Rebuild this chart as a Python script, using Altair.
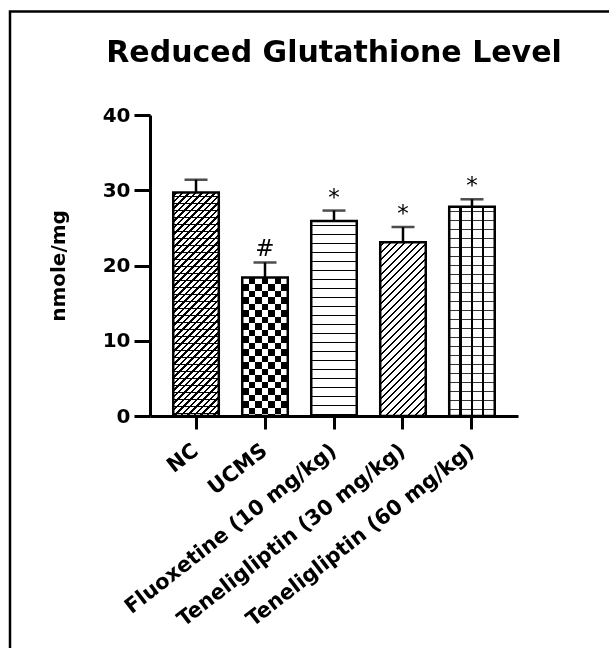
import math
import altair as alt
import pandas as pd

# ---------------- data ----------------
groups = ["NC", "UCMS", "Fluoxetine (10 mg/kg)",
          "Teneligliptin (30 mg/kg)", "Teneligliptin (60 mg/kg)"]
means = [29.7, 18.4, 25.9, 23.1, 27.8]
errors = [1.7, 2.0, 1.4, 2.0, 1.0]
signif = ["", "#", "*", "*", "*"]

df = pd.DataFrame({"group": groups, "mean": means, "err": errors, "sig": signif})
df["upper"] = df["mean"] + df["err"]

# ---------------- layout / style ----------------
PLOT_W, PLOT_H = 368, 301
Y_MAX = 40
P_IN, P_OUT = 0.34, 0.337
STEP = PLOT_W / (len(groups) - P_IN + 2 * P_OUT)
BAR_W = STEP * (1 - P_IN)
FONT = "DejaVu Sans"
CLEAR = "rgba(255,255,255,0)"


def bar_h(v):
    return v / Y_MAX * PLOT_H


def stripes(length, spacing, thickness, ink, bg, x1, y1, x2, y2, start=None):
    """Hard-edged linear gradient that draws parallel lines (a hatch fill)."""
    stops = [{"offset": 0, "color": bg}]
    p = spacing / 2 if start is None else start
    hw = thickness / 2 / length
    while p < length + thickness:
        c = p / length
        a = max(0.0, min(1.0, c - hw))
        b = max(0.0, min(1.0, c + hw))
        if b > a:
            stops += [{"offset": a, "color": bg}, {"offset": a, "color": ink},
                      {"offset": b, "color": ink}, {"offset": b, "color": bg}]
        p += spacing
    stops.append({"offset": 1, "color": bg})
    return {"gradient": "linear", "x1": x1, "y1": y1, "x2": x2, "y2": y2, "stops": stops}


def horizontal(h, spacing, thick, ink="black", bg="white", start=None):
    return stripes(h, spacing, thick, ink, bg, 0, 0, 0, 1, start)


def vertical(w, spacing, thick, ink="black", bg="white", start=None):
    return stripes(w, spacing, thick, ink, bg, 0, 0, 1, 0, start)


def diagonal(w, h, hspacing, thick, ink="black", bg="white"):
    r = h / w
    k = (1 + r) / (1 + r * r)
    length = (w + h) / math.sqrt(2)
    return stripes(length, hspacing / math.sqrt(2), thick, ink, bg, 0, 0, k, k * r)


x_axis = alt.Axis(title=None, labelAngle=322, labelAlign="right", labelBaseline="middle",
                  labelFont=FONT, labelFontSize=21, labelFontWeight="bold", labelColor="black",
                  labelPadding=19, labelLimit=0, tickSize=13, tickWidth=3, tickColor="black",
                  domainWidth=3, domainColor="black", labelOverlap=False)
y_axis = alt.Axis(title="nmole/mg", values=[0, 10, 20, 30, 40], grid=False,
                  labelFont=FONT, labelFontSize=20, labelFontWeight="bold", labelColor="black",
                  labelPadding=4, tickSize=16, tickWidth=3, tickColor="black",
                  domainWidth=3, domainColor="black",
                  titleFont=FONT, titleFontSize=20, titleFontWeight="bold", titleColor="black",
                  titleAngle=270, titleX=-92, titleY=PLOT_H / 2, titleAlign="center",
                  titleBaseline="middle")

x_enc = alt.X("group:N", scale=alt.Scale(domain=groups, paddingInner=P_IN, paddingOuter=P_OUT),
              axis=x_axis)
y_scale = alt.Scale(domain=[0, Y_MAX])


def y_of(field):
    return alt.Y(f"{field}:Q", scale=y_scale, axis=y_axis)


base = alt.Chart(df)


def fill_layer(i, fill, blend=None):
    kw = {"fill": fill, "strokeWidth": 0}
    if blend:
        kw["blend"] = blend
    return (base.transform_filter(alt.datum.group == groups[i])
            .mark_bar(**kw).encode(x=x_enc, y=y_of("mean")))


H = [bar_h(v) for v in means]
W = BAR_W
cell = W / 7

layers = [
    # NC: diagonal brick hatch
    fill_layer(0, diagonal(W, H[0], 6.5, 1.5)),
    fill_layer(0, horizontal(H[0], 7.0, 1.0, "black", CLEAR)),
    # UCMS: checkerboard
    fill_layer(1, vertical(W, 2 * cell, cell, "black", "white", start=cell / 2)),
    fill_layer(1, horizontal(H[1], 2 * cell, cell, "white", CLEAR, start=cell / 2), blend="difference"),
    # Fluoxetine: horizontal lines
    fill_layer(2, horizontal(H[2], 9.0, 1.6)),
    # Teneligliptin 30: diagonal lines
    fill_layer(3, diagonal(W, H[3], 7.3, 1.4)),
    # Teneligliptin 60: grid
    fill_layer(4, horizontal(H[4], 9.0, 1.4, "#333333")),
    fill_layer(4, vertical(W, W / 4, 2.2, "black", CLEAR, start=W / 4)),
]

outline = base.mark_bar(fillOpacity=0, stroke="black", strokeWidth=2.5).encode(
    x=x_enc, y=y_of("mean"))
stem = base.mark_rule(color="black", strokeWidth=2.5).encode(
    x=x_enc, y=y_of("mean"), y2="upper:Q")
cap = base.mark_tick(color="black", thickness=2.5, size=23).encode(x=x_enc, y=y_of("upper"))
stars = base.mark_text(font=FONT, fontSize=23, baseline="bottom", dy=-1, color="black").encode(
    x=x_enc, y=y_of("upper"), text="sig:N")

frame = alt.Chart(alt.Data(values=[{}])).mark_rect(
    fillOpacity=0, stroke="black", strokeWidth=2.5).encode(
    x=alt.value(-140), x2=alt.value(620), y=alt.value(-103.5), y2=alt.value(700))

chart = alt.layer(*layers, outline, stem, cap, stars, frame).properties(
    width=PLOT_W, height=PLOT_H,
    padding={"left": 150, "top": 115, "right": 91, "bottom": 232},
    autosize=alt.AutoSizeParams(type="none"),
    title=alt.TitleParams("Reduced Glutathione Level", font=FONT, fontSize=30,
                          fontWeight="bold", color="black", anchor="middle",
                          frame="group", offset=0, baseline="alphabetic", dy=81.5),
).configure_view(stroke="transparent", strokeWidth=0)

chart.save("out.html", embed_options={"renderer": "svg", "actions": False})
